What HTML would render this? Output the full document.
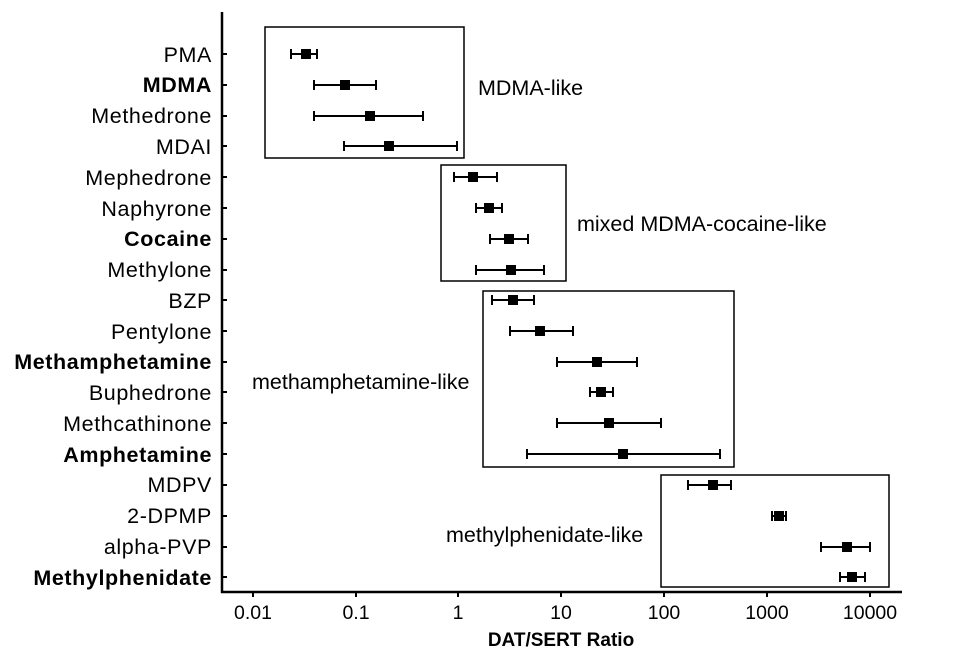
<!DOCTYPE html>
<html><head><meta charset="utf-8"><style>
html,body{margin:0;padding:0;background:#fff;}
svg{display:block;font-family:"Liberation Sans",Arial,sans-serif;}
</style></head><body>
<svg width="960" height="667" viewBox="0 0 960 667" xmlns="http://www.w3.org/2000/svg">
<rect width="960" height="667" fill="#fff"/>
<g stroke="#000" stroke-width="2.5" fill="none">
<line x1="222" y1="12" x2="222" y2="593"/>
<line x1="221" y1="592" x2="902" y2="592"/>
</g>
<g stroke="#000" stroke-width="2">
<line x1="253" y1="592" x2="253" y2="597"/><line x1="356" y1="592" x2="356" y2="597"/><line x1="458" y1="592" x2="458" y2="597"/><line x1="561" y1="592" x2="561" y2="597"/><line x1="664" y1="592" x2="664" y2="597"/><line x1="767" y1="592" x2="767" y2="597"/><line x1="870" y1="592" x2="870" y2="597"/>
</g>
<g font-size="19.5" text-anchor="middle" fill="#000">
<text x="253" y="619">0.01</text><text x="356" y="619">0.1</text><text x="458" y="619">1</text><text x="561" y="619">10</text><text x="664" y="619">100</text><text x="767" y="619">1000</text><text x="870" y="619">10000</text>
</g>
<text x="561" y="646" font-size="19" font-weight="bold" text-anchor="middle">DAT/SERT Ratio</text>
<g stroke="#000" stroke-width="1.5" fill="none">
<rect x="265" y="27" width="199" height="131"/>
<rect x="441" y="165" width="125" height="116"/>
<rect x="483" y="291" width="251" height="176"/>
<rect x="661" y="475" width="228" height="112"/>
</g>
<g font-size="21.5" fill="#000">
<text x="478" y="95">MDMA-like</text>
<text x="577" y="231">mixed MDMA-cocaine-like</text>
<text x="252" y="389">methamphetamine-like</text>
<text x="446" y="542">methylphenidate-like</text>
</g>
<g font-size="21.5" text-anchor="end" fill="#000" letter-spacing="0.6">
<text x="212" y="62">PMA</text>
<text x="212" y="92" font-weight="bold">MDMA</text>
<text x="212" y="123">Methedrone</text>
<text x="212" y="154">MDAI</text>
<text x="212" y="185">Mephedrone</text>
<text x="212" y="216">Naphyrone</text>
<text x="212" y="246" font-weight="bold">Cocaine</text>
<text x="212" y="277">Methylone</text>
<text x="212" y="308">BZP</text>
<text x="212" y="339">Pentylone</text>
<text x="212" y="369" font-weight="bold">Methamphetamine</text>
<text x="212" y="400">Buphedrone</text>
<text x="212" y="431">Methcathinone</text>
<text x="212" y="462" font-weight="bold">Amphetamine</text>
<text x="212" y="492">MDPV</text>
<text x="212" y="523">2-DPMP</text>
<text x="212" y="554">alpha-PVP</text>
<text x="212" y="585" font-weight="bold">Methylphenidate</text>
</g>
<g stroke="#000" stroke-width="2">
<line x1="222" y1="54" x2="227" y2="54"/><line x1="222" y1="85" x2="227" y2="85"/><line x1="222" y1="116" x2="227" y2="116"/><line x1="222" y1="146" x2="227" y2="146"/><line x1="222" y1="177" x2="227" y2="177"/><line x1="222" y1="208" x2="227" y2="208"/><line x1="222" y1="239" x2="227" y2="239"/><line x1="222" y1="270" x2="227" y2="270"/><line x1="222" y1="300" x2="227" y2="300"/><line x1="222" y1="331" x2="227" y2="331"/><line x1="222" y1="362" x2="227" y2="362"/><line x1="222" y1="392" x2="227" y2="392"/><line x1="222" y1="423" x2="227" y2="423"/><line x1="222" y1="454" x2="227" y2="454"/><line x1="222" y1="485" x2="227" y2="485"/><line x1="222" y1="516" x2="227" y2="516"/><line x1="222" y1="547" x2="227" y2="547"/><line x1="222" y1="577" x2="227" y2="577"/>
</g>
<g stroke="#000" stroke-width="2" fill="none">
<path d="M291 54H317M291 49V59M317 49V59"/>
<path d="M314 85H376M314 80V90M376 80V90"/>
<path d="M314 116H423M314 111V121M423 111V121"/>
<path d="M344 146H457M344 141V151M457 141V151"/>
<path d="M454 177H497M454 172V182M497 172V182"/>
<path d="M476 208H502M476 203V213M502 203V213"/>
<path d="M490 239H528M490 234V244M528 234V244"/>
<path d="M476 270H544M476 265V275M544 265V275"/>
<path d="M492 300H534M492 295V305M534 295V305"/>
<path d="M510 331H573M510 326V336M573 326V336"/>
<path d="M557 362H637M557 357V367M637 357V367"/>
<path d="M590 392H613M590 387V397M613 387V397"/>
<path d="M557 423H661M557 418V428M661 418V428"/>
<path d="M527 454H720M527 449V459M720 449V459"/>
<path d="M688 485H731M688 480V490M731 480V490"/>
<path d="M772 516H786M772 511V521M786 511V521"/>
<path d="M821 547H870M821 542V552M870 542V552"/>
<path d="M840 577H865M840 572V582M865 572V582"/>
</g>
<g fill="#000">
<rect x="301" y="49" width="10" height="10"/>
<rect x="340" y="80" width="10" height="10"/>
<rect x="365" y="111" width="10" height="10"/>
<rect x="384" y="141" width="10" height="10"/>
<rect x="468" y="172" width="10" height="10"/>
<rect x="484" y="203" width="10" height="10"/>
<rect x="504" y="234" width="10" height="10"/>
<rect x="506" y="265" width="10" height="10"/>
<rect x="508" y="295" width="10" height="10"/>
<rect x="535" y="326" width="10" height="10"/>
<rect x="592" y="357" width="10" height="10"/>
<rect x="596" y="387" width="10" height="10"/>
<rect x="604" y="418" width="10" height="10"/>
<rect x="618" y="449" width="10" height="10"/>
<rect x="708" y="480" width="10" height="10"/>
<rect x="774" y="511" width="10" height="10"/>
<rect x="842" y="542" width="10" height="10"/>
<rect x="847" y="572" width="10" height="10"/>
</g>
</svg>
</body></html>
